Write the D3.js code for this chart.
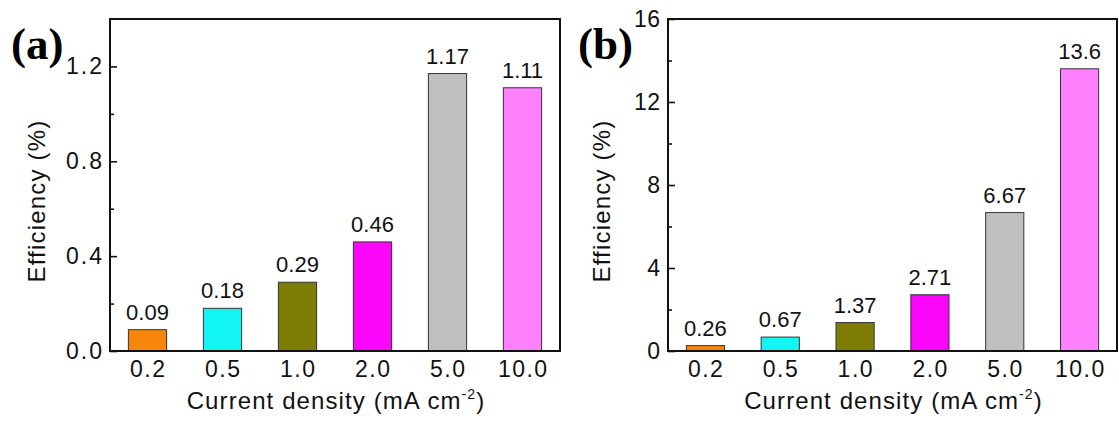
<!DOCTYPE html>
<html>
<head>
<meta charset="utf-8">
<script src="https://cdn.jsdelivr.net/npm/d3@7"></script>
<style>
  html, body { margin: 0; padding: 0; background: #fff; }
  svg { display: block; }
  text { fill: #111; }
</style>
</head>
<body>
<svg id="chart" width="1119" height="423"></svg>
<script>
// ---- data ----
const categories = ["0.2", "0.5", "1.0", "2.0", "5.0", "10.0"];
const efficiencyA = [0.09, 0.18, 0.29, 0.46, 1.17, 1.11];
const efficiencyB = [0.26, 0.67, 1.37, 2.71, 6.67, 13.6];
const valueLabelsA = ["0.09", "0.18", "0.29", "0.46", "1.17", "1.11"];
const valueLabelsB = ["0.26", "0.67", "1.37", "2.71", "6.67", "13.6"];
const barColors = ["#f7870c", "#12f5f5", "#7e7e06", "#fb05fb", "#c0c0c0", "#fd80fd"];
const yTicksA = [0.0, 0.4, 0.8, 1.2];
const yMinorA = [0.2, 0.6, 1.0];
const yTicksB = [0, 4, 8, 12, 16];
const yMinorB = [2, 6, 10, 14];
const panelLabels = ["(a)", "(b)"];
const xTitle = "Current density (mA cm";
const xTitleSup = "-2";
const yTitle = "Efficiency (%)";

const SANS = "'Liberation Sans', Arial, sans-serif";
const SERIF = "'Liberation Serif', 'Times New Roman', serif";
const svg = d3.select("#chart");

function panel(cfg) {
  const { x0, x1, y0, y1, domain, values, labels, ticks, minor, fmt, tickSpacing, yTitleX, label, labelX } = cfg;
  const g = svg.append("g");

  const x = d3.scaleBand().domain(categories).range([x0, x1])
    .paddingInner(0.49).paddingOuter(0.245);
  const y = d3.scaleLinear().domain(domain).range([y1, y0]);

  // bars
  g.selectAll("rect.bar").data(values).join("rect")
    .attr("class", "bar")
    .attr("x", (d, i) => x(categories[i]))
    .attr("width", x.bandwidth())
    .attr("y", d => y(d))
    .attr("height", d => y(0) - y(d))
    .attr("fill", (d, i) => barColors[i])
    .attr("stroke", "#333")
    .attr("stroke-width", 1);

  // value labels
  g.selectAll("text.val").data(values).join("text")
    .attr("class", "val")
    .attr("x", (d, i) => x(categories[i]) + x.bandwidth() / 2)
    .attr("y", d => y(d) - 10)
    .attr("text-anchor", "middle")
    .style("font-family", SANS)
    .style("font-size", "22px")
    .text((d, i) => labels[i]);

  // minor y ticks
  const minorAxis = d3.axisLeft(y).tickValues(minor).tickFormat("")
    .tickSizeInner(-4).tickSizeOuter(0);
  g.append("g").attr("transform", `translate(${x0},0)`).call(minorAxis)
    .call(s => s.select(".domain").remove())
    .call(s => s.selectAll("line").attr("stroke", "#111").attr("stroke-width", 1.6));

  // major y ticks
  const majorAxis = d3.axisLeft(y).tickValues(ticks).tickFormat(d3.format(fmt))
    .tickSizeInner(-7).tickSizeOuter(0).tickPadding(8);
  g.append("g").attr("transform", `translate(${x0},0)`).call(majorAxis)
    .call(s => s.select(".domain").remove())
    .call(s => s.selectAll("line").attr("stroke", "#111").attr("stroke-width", 1.6))
    .call(s => s.selectAll("text")
      .style("font-size", "23px")
      .style("font-family", SANS)
      .attr("fill", "#111")
      .style("letter-spacing", tickSpacing + "px")
      .attr("dx", tickSpacing));

  // x axis labels
  const xAxis = d3.axisBottom(x).tickSize(0).tickPadding(10);
  g.append("g").attr("transform", `translate(0,${y1})`).call(xAxis)
    .call(s => s.select(".domain").remove())
    .call(s => s.selectAll("text")
      .style("font-size", "23px")
      .style("font-family", SANS)
      .attr("fill", "#111")
      .style("letter-spacing", "1.5px")
      .attr("dx", 0.75));

  // frame
  g.append("rect")
    .attr("x", x0).attr("y", y0)
    .attr("width", x1 - x0).attr("height", y1 - y0)
    .attr("fill", "none").attr("stroke", "#111").attr("stroke-width", 2);

  // x title
  const xt = g.append("text")
    .attr("x", (x0 + x1) / 2 + 1)
    .attr("y", 409)
    .attr("text-anchor", "middle")
    .style("font-family", SANS)
    .style("font-size", "24px")
    .style("letter-spacing", "1.1px");
  xt.append("tspan").text(xTitle);
  xt.append("tspan").style("font-size", "14px").attr("dy", -10).text(xTitleSup);
  xt.append("tspan").attr("dy", 10).text(")");

  // y title
  g.append("text")
    .attr("transform", `translate(${yTitleX},${201}) rotate(-90)`)
    .attr("text-anchor", "middle")
    .style("font-family", SANS)
    .style("font-size", "24px")
    .style("letter-spacing", "1.2px")
    .text(yTitle);

  // panel label
  g.append("text")
    .attr("x", labelX).attr("y", 59)
    .style("font-family", SERIF)
    .style("font-weight", "bold")
    .style("font-size", "45px")
    .style("fill", "#000")
    .text(label);
}

panel({
  x0: 110, x1: 560, y0: 19, y1: 351,
  domain: [0, 1.4], values: efficiencyA, labels: valueLabelsA,
  ticks: yTicksA, minor: yMinorA, fmt: ".1f", tickSpacing: 2,
  yTitleX: 45, label: panelLabels[0], labelX: 11
});

panel({
  x0: 668, x1: 1117, y0: 19, y1: 351,
  domain: [0, 16], values: efficiencyB, labels: valueLabelsB,
  ticks: yTicksB, minor: yMinorB, fmt: "d", tickSpacing: 0.5,
  yTitleX: 610, label: panelLabels[1], labelX: 578
});
</script>
</body>
</html>
